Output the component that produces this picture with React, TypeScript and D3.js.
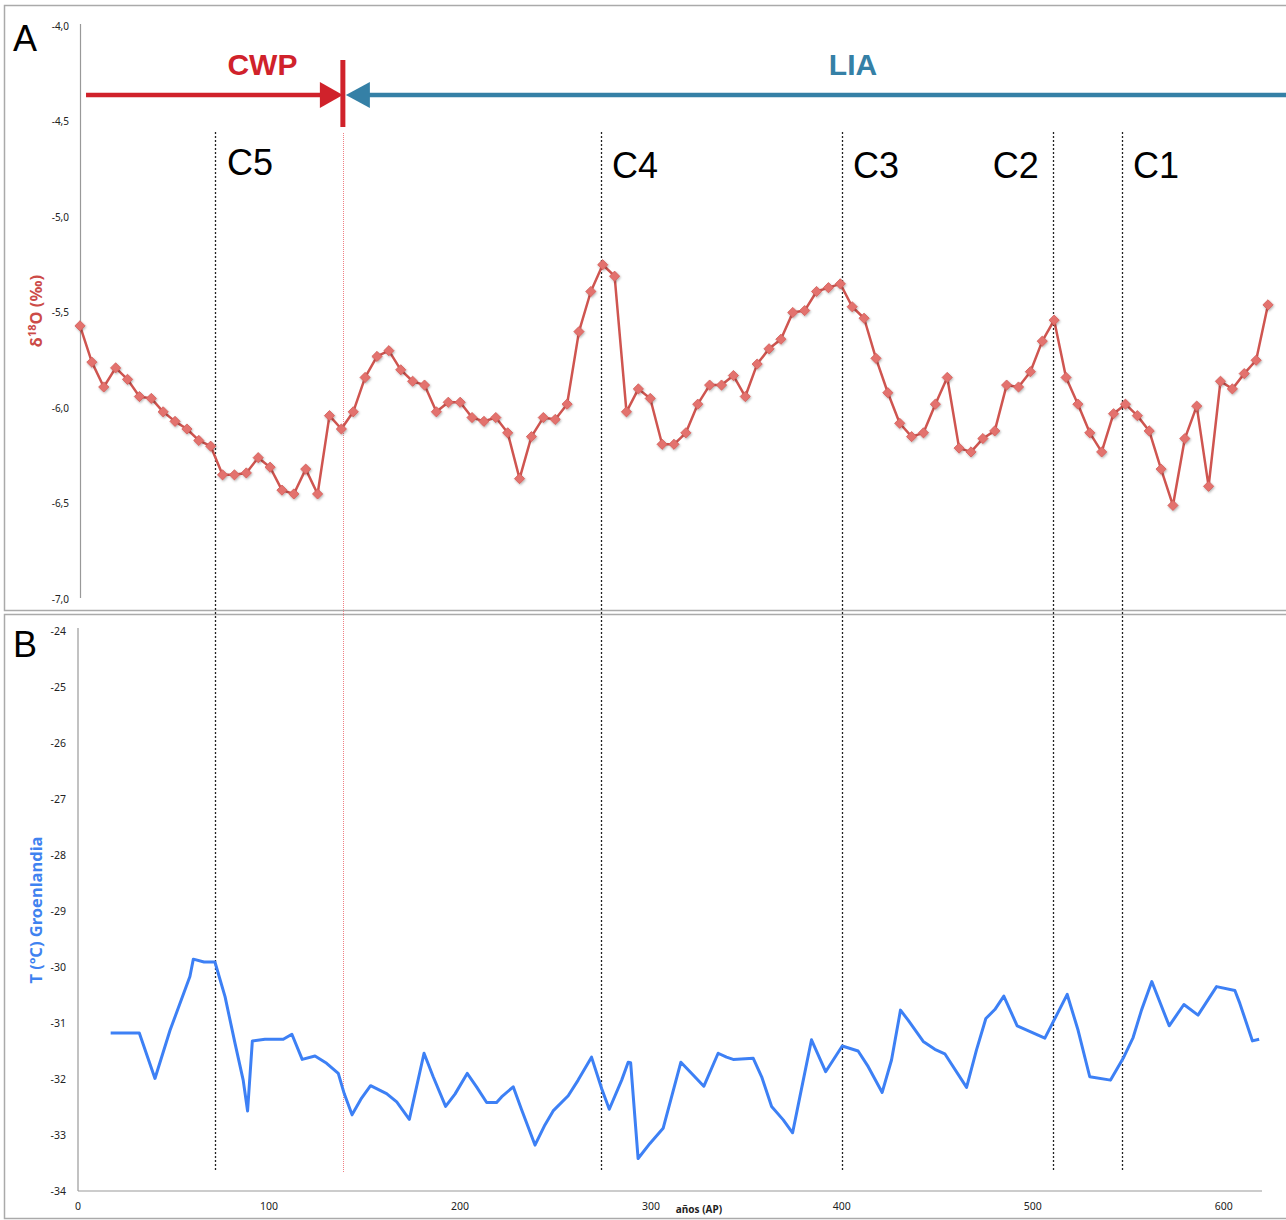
import React from "react";
import * as d3 from "d3";

// Panel A: δ18O (‰), evenly spaced samples (index 0..100)
const deltaA = [
  -5.57, -5.76, -5.89, -5.79, -5.85, -5.94, -5.95, -6.02, -6.07, -6.11,
  -6.17, -6.2, -6.35, -6.35, -6.34, -6.26, -6.31, -6.43, -6.45, -6.32,
  -6.45, -6.04, -6.11, -6.02, -5.84, -5.73, -5.7, -5.8, -5.86, -5.88,
  -6.02, -5.97, -5.97, -6.05, -6.07, -6.05, -6.13, -6.37, -6.15, -6.05,
  -6.06, -5.98, -5.6, -5.39, -5.25, -5.31, -6.02, -5.9, -5.95, -6.19,
  -6.19, -6.13, -5.98, -5.88, -5.88, -5.83, -5.94, -5.77, -5.69, -5.64,
  -5.5, -5.49, -5.39, -5.37, -5.35, -5.47, -5.53, -5.74, -5.92, -6.08,
  -6.15, -6.13, -5.98, -5.84, -6.21, -6.23, -6.16, -6.12, -5.88, -5.89,
  -5.81, -5.65, -5.54, -5.84, -5.98, -6.13, -6.23, -6.03, -5.98, -6.04,
  -6.12, -6.32, -6.51, -6.16, -5.99, -6.41, -5.86, -5.9, -5.82, -5.75,
  -5.46,
];

// Panel B: Greenland temperature (ºC) vs years AP
const yearsB = [
  17.1, 32.1, 40.3, 48.2, 58.6, 60.4, 66.0, 71.7, 77.0, 82.2, 86.5, 88.8, 91.3,
  97.9, 107.5, 112.0, 117.4, 124.1, 130.2, 136.3, 139.4, 143.5, 148.5, 153.2,
  161.6, 166.9, 173.5, 181.2, 186.0, 192.5, 197.4, 203.8, 208.7, 214.0, 219.2,
  221.8, 227.9, 232.3, 239.3, 244.5, 248.8, 256.7, 261.9, 268.9, 274.2, 278.2,
  284.7, 288.1, 289.4, 293.3, 299.5, 306.4, 315.7, 322.1, 327.7, 335.2, 339.6,
  343.1, 353.6, 358.0, 363.2, 369.3, 374.2, 378.0, 384.1, 391.5, 400.2, 408.5,
  413.8, 421.1, 426.0, 430.7, 434.7, 442.6, 448.7, 453.9, 465.3, 470.5, 475.4,
  480.1, 484.8, 491.8, 506.3, 518.0, 523.7, 529.8, 540.7, 547.3, 552.5, 556.9,
  562.3, 571.4, 579.1, 586.5, 596.2, 605.8, 608.4, 615.0, 618.5,
];
const tempB = [
  -31.18, -31.18, -31.99, -31.13, -30.17, -29.86, -29.91, -29.91, -30.53, -31.36,
  -32.02, -32.57, -31.32, -31.29, -31.29, -31.2, -31.65, -31.59, -31.72, -31.9,
  -32.26, -32.64, -32.34, -32.12, -32.26, -32.41, -32.72, -31.54, -31.96, -32.49,
  -32.27, -31.9, -32.14, -32.42, -32.42, -32.32, -32.14, -32.55, -33.18, -32.82,
  -32.57, -32.3, -32.02, -31.61, -32.17, -32.54, -32.02, -31.7, -31.71, -33.42,
  -33.15, -32.88, -31.7, -31.93, -32.13, -31.54, -31.61, -31.65, -31.63, -31.96,
  -32.49, -32.73, -32.96, -32.32, -31.3, -31.87, -31.41, -31.5, -31.78, -32.24,
  -31.66, -30.77, -30.95, -31.33, -31.47, -31.55, -32.15, -31.48, -30.92, -30.76,
  -30.52, -31.05, -31.27, -30.49, -31.13, -31.96, -32.02, -31.63, -31.26, -30.77,
  -30.26, -31.05, -30.67, -30.86, -30.35, -30.42, -30.65, -31.32, -31.29,
];

const ticksA = [-4, -4.5, -5, -5.5, -6, -6.5, -7];
const ticksBy = [-24, -25, -26, -27, -28, -29, -30, -31, -32, -33, -34];
const ticksBx = [0, 100, 200, 300, 400, 500, 600];

const cycleNames = ["C5", "C4", "C3", "C2", "C1"];
const cycleYears = [72, 273.8, 400, 510.3, 546.6];
const cycleLabelYears = [78, 279.6, 405.8, 479, 552.4];
const boundaryYear = 138.7;
const cwpStartYear = 4.2;

const fontTick = "'Noto Sans', 'Open Sans', sans-serif";
const fontMain = "'Liberation Sans', Arial, sans-serif";

export default function App() {
  const xB = d3.scaleLinear().domain([0, 620]).range([78, 1262]);
  const yB = d3.scaleLinear().domain([-34, -24]).range([1191, 631]);
  const xA = d3.scaleLinear().domain([0, deltaA.length - 1]).range([80, 1268]);
  const yA = d3.scaleLinear().domain([-7, -4]).range([599, 26]);

  const lineA = d3
    .line<number>()
    .x((_, i) => xA(i))
    .y((d) => yA(d));
  const lineB = d3
    .line<number>()
    .x((_, i) => xB(yearsB[i]))
    .y((d) => yB(d));
  const diamond = d3.symbol().type(d3.symbolSquare).size(52)();

  const redArrow = "#d0222b";
  const blueArrow = "#3580a6";
  const bx = xB(boundaryYear);
  const bxr = Math.round(bx) + 0.5;
  const arrowY = 95;

  return (
    <svg
      width={1286}
      height={1220}
      style={{ position: "absolute", left: 0, top: 0, background: "#fff" }}
    >
      <defs>
        <filter id="shadow" x="-50%" y="-50%" width="200%" height="200%">
          <feDropShadow dx="0.8" dy="1.2" stdDeviation="0.9" floodColor="#000" floodOpacity="0.3" />
        </filter>
      </defs>
      <rect x={0} y={0} width={1286} height={1220} fill="#fff" />
      {/* panel borders */}
      <rect x={4.5} y={5.5} width={1300} height={605} fill="none" stroke="#aaa" strokeWidth={1.5} />
      <rect x={4.5} y={614.5} width={1300} height={604} fill="none" stroke="#aaa" strokeWidth={1.5} />

      {/* panel letters */}
      <text x={13} y={51} fontFamily={fontMain} fontSize={36} fill="#000">A</text>
      <text x={13} y={657} fontFamily={fontMain} fontSize={36} fill="#000">B</text>

      {/* Panel A axis */}
      <line x1={80.5} x2={80.5} y1={24} y2={598} stroke="#999" strokeWidth={1.2} />
      {ticksA.map((t) => (
        <text
          key={t}
          x={69}
          y={yA(t)}
          dy="0.35em"
          textAnchor="end"
          fontFamily={fontTick}
          fontSize={10}
          fill="#222"
        >
          {d3.format(".1f")(t).replace(".", ",").replace("−", "-")}
        </text>
      ))}
      <text
        transform={`translate(42,${311}) rotate(-90)`}
        textAnchor="middle"
        fontFamily={fontTick}
        fontSize={16.5}
        fontWeight="bold"
        fill="#cc4b48"
      >
        δ<tspan fontSize={11} dy={-6}>18</tspan>
        <tspan dy={6}>O (‰)</tspan>
      </text>

      {/* Panel B axes */}
      <line x1={78} x2={78} y1={628} y2={1191} stroke="#999" strokeWidth={1.2} />
      <line x1={78} x2={1262} y1={1191} y2={1191} stroke="#999" strokeWidth={1.2} />
      {ticksBy.map((t) => (
        <text
          key={t}
          x={66}
          y={yB(t)}
          dy="0.35em"
          textAnchor="end"
          fontFamily={fontTick}
          fontSize={10.5}
          fill="#222"
        >
          {String(t)}
        </text>
      ))}
      {ticksBx.map((t) => (
        <text
          key={t}
          x={xB(t)}
          y={1210}
          textAnchor="middle"
          fontFamily={fontTick}
          fontSize={10.5}
          fill="#222"
        >
          {t}
        </text>
      ))}
      <text x={699} y={1213} textAnchor="middle" fontFamily={fontTick} fontSize={10} fontWeight="bold" fill="#222">
        años (AP)
      </text>
      <text
        transform={`translate(42,${910}) rotate(-90)`}
        textAnchor="middle"
        fontFamily={fontTick}
        fontSize={16.5}
        fontWeight="bold"
        fill="#3f82f0"
      >
        T (ºC) Groenlandia
      </text>

      {/* vertical cycle lines */}
      {cycleYears.map((y, i) => (
        <line
          key={i}
          x1={Math.round(xB(y)) + 0.5}
          x2={Math.round(xB(y)) + 0.5}
          y1={132}
          y2={1170}
          stroke="#222"
          strokeWidth={1.3}
          strokeDasharray="2,2"
        />
      ))}
      <line x1={bxr} x2={bxr} y1={133} y2={1172} stroke="#f07f84" strokeWidth={1} strokeDasharray="1,1" />

      {cycleNames.map((n, i) => (
        <text
          key={n}
          x={xB(cycleLabelYears[i])}
          y={i === 0 ? 175 : 178}
          fontFamily={fontMain}
          fontSize={36}
          fill="#000"
        >
          {n}
        </text>
      ))}

      {/* CWP arrow */}
      <line x1={xB(cwpStartYear)} x2={bx - 20} y1={arrowY} y2={arrowY} stroke={redArrow} strokeWidth={4.5} />
      <path d={`M${bx - 23},${arrowY - 13} L${bx},${arrowY} L${bx - 23},${arrowY + 13} Z`} fill={redArrow} />
      <line x1={bx} x2={bx} y1={60} y2={127} stroke={redArrow} strokeWidth={5} />
      <text x={(xB(cwpStartYear) + bx) / 2 + 48} y={75} textAnchor="middle" fontFamily={fontMain} fontSize={30} fontWeight="bold" fill={redArrow}>
        CWP
      </text>
      {/* LIA arrow */}
      <line x1={bx + 22} x2={1290} y1={arrowY} y2={arrowY} stroke={blueArrow} strokeWidth={4.5} />
      <path d={`M${bx + 27},${arrowY - 13} L${bx + 3},${arrowY} L${bx + 27},${arrowY + 13} Z`} fill={blueArrow} />
      <text x={853} y={75} textAnchor="middle" fontFamily={fontMain} fontSize={30} fontWeight="bold" fill={blueArrow}>
        LIA
      </text>

      {/* Series A */}
      <path d={lineA(deltaA) || ""} fill="none" stroke="#cf5550" strokeWidth={2.5} strokeLinejoin="round" />
      <g filter="url(#shadow)">
        {deltaA.map((d, i) => (
          <path
            key={i}
            d={diamond || ""}
            transform={`translate(${xA(i)},${yA(d)}) rotate(45)`}
            fill="#e3726e"
            stroke="#d45e5a"
            strokeWidth={0.8}
          />
        ))}
      </g>

      {/* Series B */}
      <path d={lineB(tempB) || ""} fill="none" stroke="#3d80f5" strokeWidth={3} strokeLinejoin="round" />
    </svg>
  );
}
